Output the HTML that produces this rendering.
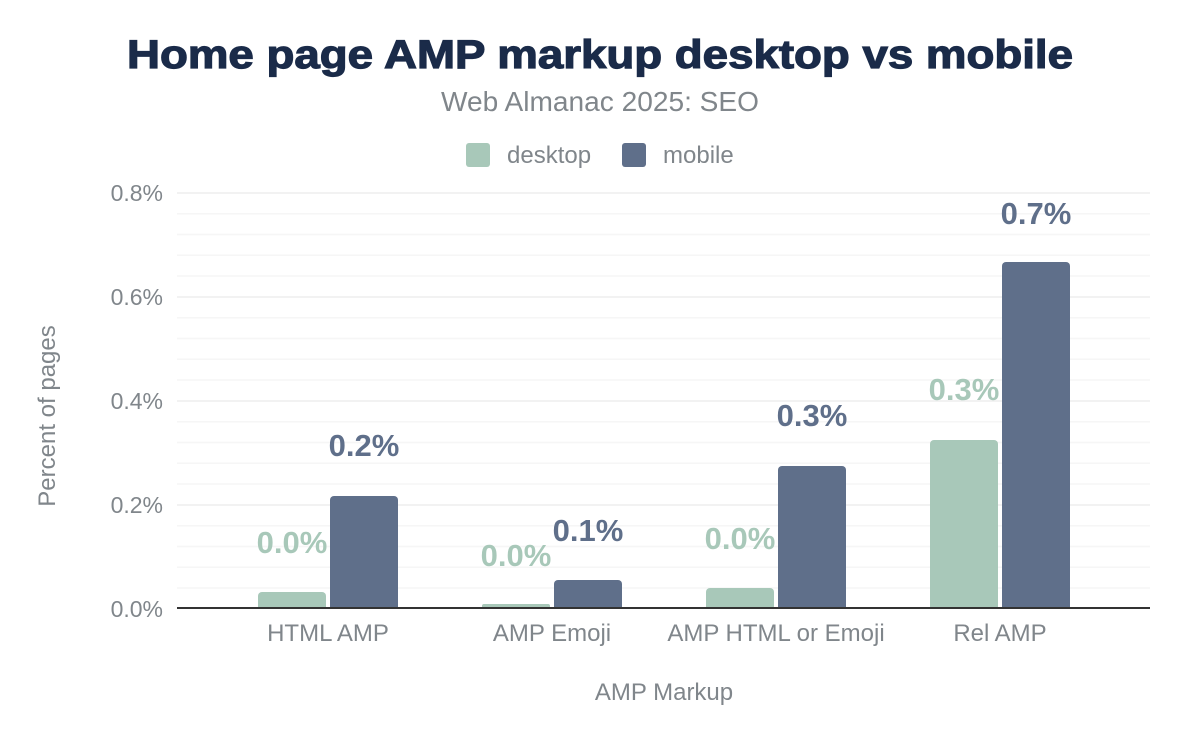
<!DOCTYPE html>
<html><head><meta charset="utf-8"><style>
body{margin:0;background:#fff;}
svg{display:block;font-family:"Liberation Sans",Arial,sans-serif;}
</style></head><body>
<svg width="1200" height="742" viewBox="0 0 1200 742">
<rect width="1200" height="742" fill="#fff"/>
<text x="600" y="68" text-anchor="middle" font-size="40" font-weight="bold" fill="#1a2b49" textLength="946" lengthAdjust="spacingAndGlyphs" stroke="#1a2b49" stroke-width="1.2">Home page AMP markup desktop vs mobile</text>
<text x="600" y="111" text-anchor="middle" font-size="28" fill="#80868b" textLength="318" lengthAdjust="spacingAndGlyphs">Web Almanac 2025: SEO</text>
<rect x="466" y="143" width="24" height="24" rx="3" fill="#a8c8b9"/>
<text x="507" y="163" font-size="24" fill="#80868b">desktop</text>
<rect x="622" y="143" width="24" height="24" rx="3" fill="#5f6f8a"/>
<text x="663" y="163" font-size="24" fill="#80868b">mobile</text>
<g stroke="#f6f6f6" stroke-width="1.5">
<line x1="177" x2="1150" y1="213.8" y2="213.8"/><line x1="177" x2="1150" y1="234.5" y2="234.5"/><line x1="177" x2="1150" y1="255.3" y2="255.3"/><line x1="177" x2="1150" y1="276" y2="276"/>
<line x1="177" x2="1150" y1="317.8" y2="317.8"/><line x1="177" x2="1150" y1="338.5" y2="338.5"/><line x1="177" x2="1150" y1="359.3" y2="359.3"/><line x1="177" x2="1150" y1="380" y2="380"/>
<line x1="177" x2="1150" y1="421.8" y2="421.8"/><line x1="177" x2="1150" y1="442.5" y2="442.5"/><line x1="177" x2="1150" y1="463.3" y2="463.3"/><line x1="177" x2="1150" y1="484" y2="484"/>
<line x1="177" x2="1150" y1="525.8" y2="525.8"/><line x1="177" x2="1150" y1="546.5" y2="546.5"/><line x1="177" x2="1150" y1="567.3" y2="567.3"/><line x1="177" x2="1150" y1="588" y2="588"/>
</g>
<g stroke="#eeeeee" stroke-width="1.5">
<line x1="177" x2="1150" y1="193" y2="193"/><line x1="177" x2="1150" y1="297" y2="297"/><line x1="177" x2="1150" y1="401" y2="401"/><line x1="177" x2="1150" y1="505" y2="505"/>
</g>
<g font-size="23" fill="#80868b" text-anchor="end">
<text x="163" y="201">0.8%</text><text x="163" y="305">0.6%</text><text x="163" y="409">0.4%</text><text x="163" y="513">0.2%</text><text x="163" y="617">0.0%</text>
</g>
<g fill="#a8c8b9">
<rect x="258" y="592" width="68" height="20" rx="4"/>
<rect x="482" y="604" width="68" height="8" rx="2"/>
<rect x="706" y="588" width="68" height="24" rx="4"/>
<rect x="930" y="440" width="68" height="172" rx="4"/>
</g>
<g fill="#5f6f8a">
<rect x="330" y="496" width="68" height="116" rx="4"/>
<rect x="554" y="580" width="68" height="32" rx="4"/>
<rect x="778" y="466" width="68" height="146" rx="4"/>
<rect x="1002" y="262" width="68" height="350" rx="4"/>
</g>
<rect x="170" y="608" width="990" height="20" fill="#fff"/>
<line x1="177" x2="1150" y1="608" y2="608" stroke="#333" stroke-width="2"/>
<g font-size="31" font-weight="bold" text-anchor="middle">
<text x="292" y="553" fill="#a8c8b9">0.0%</text>
<text x="364" y="456" fill="#5f6f8a">0.2%</text>
<text x="516" y="566" fill="#a8c8b9">0.0%</text>
<text x="588" y="541" fill="#5f6f8a">0.1%</text>
<text x="740" y="549" fill="#a8c8b9">0.0%</text>
<text x="812" y="426" fill="#5f6f8a">0.3%</text>
<text x="964" y="400" fill="#a8c8b9">0.3%</text>
<text x="1036" y="224" fill="#5f6f8a">0.7%</text>
</g>
<g font-size="24" fill="#80868b" text-anchor="middle">
<text x="328" y="641">HTML AMP</text>
<text x="552" y="641">AMP Emoji</text>
<text x="776" y="641">AMP HTML or Emoji</text>
<text x="1000" y="641">Rel AMP</text>
<text x="664" y="700">AMP Markup</text>
<text transform="translate(55,416) rotate(-90)">Percent of pages</text>
</g>
</svg>
</body></html>
